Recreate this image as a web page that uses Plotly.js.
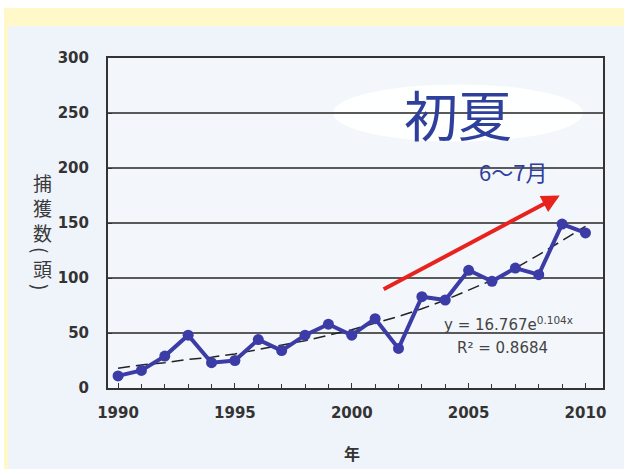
<!DOCTYPE html>
<html><head><meta charset="utf-8">
<script src="https://cdn.plot.ly/plotly-3.0.1.min.js"></script>
<style>html,body{margin:0;padding:0;background:#fff;}#chart{width:624px;height:469px;}</style>
</head><body><div id="chart"></div>
<script>
// Data
const years = [1990,1991,1992,1993,1994,1995,1996,1997,1998,1999,2000,2001,2002,2003,2004,2005,2006,2007,2008,2009,2010];
const catches = [11,16,29,48,23,25,44,34,48,58,48,63,36,83,80,107,97,109,103,149,141];
const trendValues = [18,21,23,26,28,31,35,39,43,48,53,59,65,72,80,89,98,109,121,134,147];
const xTickVals = [1990,1995,2000,2005,2010];
const xTickText = ['1990','1995','2000','2005','2010'];
const yTickVals = [0,50,100,150,200,250,300];
const yTickText = ['0','50','100','150','200','250','300'];
const yTitleChars = ['捕','獲','数','(','頭',')'];
const xTitle = '年';
const seasonLabel = '初夏';
const monthLabel = '6～7月';
const equationText = 'y = 16.767e<sup>0.104x</sup>';
const r2Text = 'R² = 0.8684';

// layout helpers (pixel -> paper)
const L=108, R=603, T=58, B=388;
const px = v => (v - L)/(R - L);
const py = v => (B - v)/(B - T);

const traces = [
  {x: years, y: trendValues, mode:'lines', line:{color:'#222', width:1.5, dash:'12px,6px'}, hoverinfo:'skip'},
  {x: years, y: catches, mode:'lines+markers', line:{color:'#3B3CA6', width:4},
   marker:{color:'#3B3CA6', size:11}}
];

const yTitleCenters = [182, 207, 232, 250, 268, 287];
const annotations = yTitleChars.map((c,i)=>({
  xref:'paper', yref:'paper', x: px(42), y: py(yTitleCenters[i]), text:c, showarrow:false,
  xanchor:'center', yanchor:'middle', textangle: (c==='('||c===')') ? 90 : 0,
  font:{family:'Noto Sans CJK JP', size:19, color:'#3a3a3a'}
}));
annotations.push(
  {xref:'paper', yref:'paper', x:px(352), y:py(453), xanchor:'center', yanchor:'middle', text:xTitle, showarrow:false,
   font:{family:'Noto Sans CJK JP', size:16, color:'#333', weight:'bold'}},
  {x:2004.55, y:250, xanchor:'center', yanchor:'middle', text:seasonLabel, showarrow:false,
   font:{family:'Noto Sans CJK JP', size:54, color:'#2F3F9C'}},
  {x:2006.9, y:197, xanchor:'center', yanchor:'middle', text:monthLabel, showarrow:false,
   font:{family:'Noto Sans CJK JP', size:22, color:'#2F3F9C'}},
  {x:2006.7, y:58, xanchor:'center', yanchor:'middle', text:equationText, showarrow:false,
   font:{family:'DejaVu Sans', size:15, color:'#444'}},
  {x:2006.45, y:36, xanchor:'center', yanchor:'middle', text:r2Text, showarrow:false,
   font:{family:'DejaVu Sans', size:15, color:'#444'}},
  {x:2008.9, y:175, ax:2001.3, ay:89, axref:'x', ayref:'y', xref:'x', yref:'y', text:'',
   showarrow:true, arrowhead:2, arrowsize:0.9, arrowwidth:4, arrowcolor:'#E8231E'}
);

const shapes = [
  {type:'rect', xref:'paper', yref:'paper', x0:px(0), x1:px(624), y0:py(0), y1:py(8), fillcolor:'#FFFFFF', line:{width:0}, layer:'below'},
  {type:'rect', xref:'paper', yref:'paper', x0:px(0), x1:px(4), y0:py(0), y1:py(469), fillcolor:'#FFFFFF', line:{width:0}, layer:'below'},
  {type:'rect', xref:'paper', yref:'paper', x0:px(4), x1:px(624), y0:py(8), y1:py(26), fillcolor:'#FFF9C9', line:{width:0}, layer:'below'},
  {type:'rect', xref:'paper', yref:'paper', x0:px(4), x1:px(8), y0:py(26), y1:py(469), fillcolor:'#FFF9C9', line:{width:0}, layer:'below'},
  {type:'circle', xref:'x', yref:'y', x0:1999.2, x1:2009.9, y0:224, y1:276, fillcolor:'#FFFFFF', opacity:0.9, line:{width:0}, layer:'below'}
];

const layout = {
  width:624, height:469,
  margin:{l:L, r:624-R, t:T, b:469-B},
  paper_bgcolor:'#EFF4FA', plot_bgcolor:'#F3F7FB',
  showlegend:false,
  xaxis:{range:[1989.57,2010.75], tickvals:xTickVals, ticktext:xTickText, ticks:'inside', ticklen:5,
    tickcolor:'#333', showgrid:false, zeroline:false, showline:true, linecolor:'#333', linewidth:2, mirror:true,
    minor:{dtick:1, tick0:1990, ticks:'inside', ticklen:4, tickcolor:'#333', showgrid:false},
    tickfont:{family:'DejaVu Sans', size:15, color:'#333', weight:'bold'}, ticklabelstandoff:10},
  yaxis:{range:[0,300], tickvals:yTickVals, ticktext:yTickText, ticks:'inside', ticklen:4, tickcolor:'#333',
    showgrid:true, gridcolor:'#5A5A5A', gridwidth:1.5, zeroline:false, showline:true, linecolor:'#333', linewidth:2, mirror:true,
    tickfont:{family:'DejaVu Sans', size:15, color:'#333', weight:'bold'}, ticklabelstandoff:14},
  annotations, shapes
};
Plotly.newPlot('chart', traces, layout, {staticPlot:true});
</script></body></html>
